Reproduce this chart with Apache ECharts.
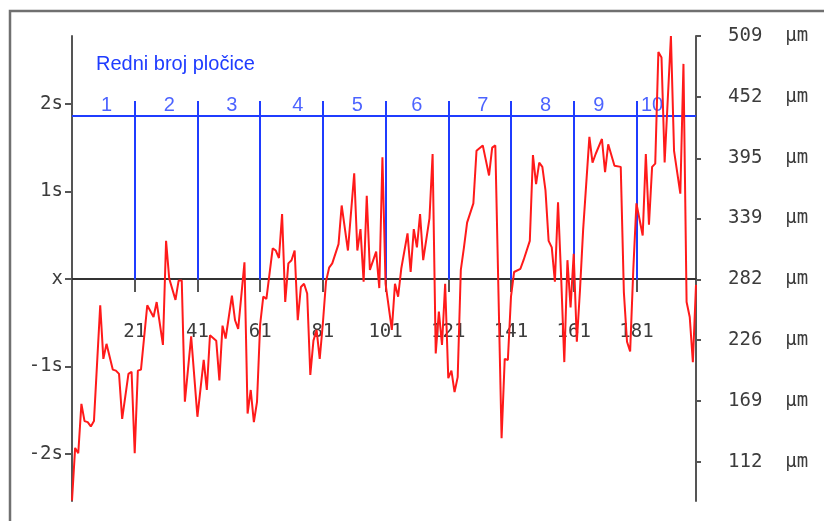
<!DOCTYPE html>
<html>
<head>
<meta charset="utf-8">
<script src="https://cdn.jsdelivr.net/npm/echarts@6/dist/echarts.min.js"></script>
<style>
  html, body { margin: 0; padding: 0; background: #fff; }
  #chart { width: 824px; height: 521px; }
</style>
</head>
<body>
<div id="chart"></div>
<script>
const SAMPLE_IDX = [
  1, 2, 3, 4, 5, 6, 7, 8, 10, 11, 12, 14, 15, 16, 17, 19, 20, 21, 22, 23,
  25, 27, 28, 30, 31, 32, 34, 35, 36, 37, 39, 41, 43, 44, 45, 47, 48, 49, 50, 52,
  53, 54, 56, 57, 58, 59, 60, 61, 62, 63, 65, 66, 67, 68, 69, 70, 71, 72, 73, 74,
  75, 76, 77, 78, 79, 80, 81, 82, 83, 84, 86, 87, 89, 91, 92, 93, 94, 95, 96, 98,
  99, 100, 101, 103, 104, 105, 106, 108, 109, 110, 111, 112, 113, 115, 116, 117, 118, 119, 120, 121,
  122, 123, 124, 125, 126, 127, 129, 130, 132, 134, 135, 136, 138, 139, 140, 141, 142, 144, 145, 147,
  148, 149, 150, 151, 152, 153, 154, 155, 156, 157, 158, 159, 160, 161, 162, 163, 164, 166, 167, 168,
  170, 171, 172, 174, 176, 177, 178, 179, 180, 181, 183, 184, 185, 186, 187, 188, 189, 190, 192, 193,
  195, 196, 197, 198, 199, 200
];
const THICKNESS_UM = [
  76, 125, 120, 166, 150, 149, 145, 150, 258, 208, 222, 198, 197, 194, 152, 194, 196, 120, 197, 198,
  258, 247, 261, 221, 318, 283, 263, 281, 281, 168, 229, 154, 207, 179, 230, 225, 188, 239, 227, 267,
  244, 236, 298, 157, 179, 149, 168, 240, 266, 264, 311, 309, 302, 343, 261, 297, 300, 309, 244, 275,
  278, 269, 193, 225, 235, 208, 241, 280, 293, 297, 315, 351, 309, 381, 309, 329, 280, 360, 291, 308,
  274, 396, 278, 235, 278, 266, 292, 325, 289, 329, 312, 343, 300, 339, 399, 213, 252, 221, 278, 190,
  197, 177, 191, 291, 312, 335, 353, 402, 407, 379, 405, 407, 134, 208, 207, 266, 289, 292, 300, 318,
  398, 371, 391, 387, 365, 318, 312, 280, 354, 284, 205, 300, 256, 306, 224, 272, 328, 415, 391, 399,
  413, 382, 408, 388, 387, 270, 224, 215, 291, 353, 323, 399, 333, 387, 390, 494, 489, 391, 509, 402,
  362, 483, 261, 247, 205, 277
];

// x ticks on the mean line
const X_TICKS = [21, 41, 61, 81, 101, 121, 141, 161, 181];

// right axis (µm)
const UM_TICKS = [112, 169, 226, 282, 339, 395, 452, 509];
const UM_MIN = 75.5;
const UM_MAX = 509;

// left axis: mean and ±s, ±2s
const S_TICKS = [445.5, 364, 282.5, 201, 119.5];
const S_LABELS = ["2s", "1s", "x", "-1s", "-2s"];

// plates (Redni broj pločice)
const PLATE_BOUNDS = [21, 41, 61, 81, 101, 121, 141, 161, 181];
const PLATE_NAMES = ["1", "2", "3", "4", "5", "6", "7", "8", "9", "10"];
const PLATE_LABEL_X = [12, 32, 52, 73, 92, 111, 132, 152, 169, 186];
const PLATE_LINE_UM = 434.4;
const PLATE_TOP_UM = 448.4;
const PLATE_LABEL_UM = 443.8;
const MEAN_UM = 282;

const MONO = "DejaVu Sans Mono";
const SANS = "Liberation Sans";
const TEXT = "#3c3c3c";
const AXIS = "#555";
const BLUE = "#1f3cff";

const chart = echarts.init(document.getElementById("chart"), null, { renderer: "canvas" });

const plateLines = [{ coords: [[1, PLATE_LINE_UM], [200, PLATE_LINE_UM]] }].concat(
  PLATE_BOUNDS.map((b) => ({ coords: [[b, PLATE_TOP_UM], [b, MEAN_UM]] }))
);

chart.setOption({
  animation: false,
  backgroundColor: "#fff",
  title: {
    text: "Redni broj pločice",
    left: 91,
    top: 49,
    textStyle: { color: BLUE, fontFamily: SANS, fontSize: 20, fontWeight: "normal" },
  },
  graphic: [
    {
      type: "rect",
      shape: { x: 10, y: 11, width: 840, height: 540 },
      style: { fill: null, stroke: "#707070", lineWidth: 2.5 },
      silent: true,
    },
  ],
  grid: { left: 72, right: 128, top: 36, bottom: 20, outerBoundsMode: "none", containLabel: false },
  xAxis: [
    {
      type: "value",
      min: 1,
      max: 200,
      position: "bottom",
      offset: -222,
      splitLine: { show: false },
      axisLine: { show: true, lineStyle: { color: "#333", width: 2 } },
      axisTick: { show: true, length: 13, customValues: X_TICKS, lineStyle: { color: AXIS, width: 2 } },
      axisLabel: {
        show: true,
        customValues: X_TICKS,
        margin: 44,
        color: TEXT,
        fontFamily: MONO,
        fontSize: 19,
      },
    },
    {
      type: "value",
      min: 1,
      max: 200,
      position: "bottom",
      offset: -222,
      splitLine: { show: false },
      axisLine: { show: false },
      axisTick: { show: true, inside: true, length: 12, customValues: X_TICKS, lineStyle: { color: AXIS, width: 2 } },
      axisLabel: { show: false },
    },
  ],
  yAxis: [
    {
      type: "value",
      min: UM_MIN,
      max: UM_MAX,
      position: "left",
      splitLine: { show: false },
      axisLine: { show: true, lineStyle: { color: AXIS, width: 2 } },
      axisTick: { show: true, length: 7, customValues: S_TICKS, lineStyle: { color: AXIS, width: 2 } },
      axisLabel: {
        customValues: S_TICKS,
        margin: 9,
        color: TEXT,
        fontFamily: MONO,
        fontSize: 19,
        formatter: (v) => S_LABELS[S_TICKS.indexOf(v)],
      },
    },
    {
      type: "value",
      min: UM_MIN,
      max: UM_MAX,
      position: "right",
      splitLine: { show: false },
      axisLine: { show: true, lineStyle: { color: AXIS, width: 2 } },
      axisTick: { show: true, length: 5, customValues: UM_TICKS, lineStyle: { color: AXIS, width: 2 } },
      axisLabel: {
        customValues: UM_TICKS,
        margin: 32,
        color: TEXT,
        fontFamily: MONO,
        fontSize: 19,
        formatter: (v) => v + "  µm",
      },
    },
  ],
  series: [
    {
      type: "lines",
      coordinateSystem: "cartesian2d",
      xAxisIndex: 0,
      yAxisIndex: 1,
      silent: true,
      z: 3,
      lineStyle: { color: BLUE, width: 2, opacity: 1 },
      data: plateLines,
    },
    {
      type: "scatter",
      xAxisIndex: 0,
      yAxisIndex: 1,
      symbolSize: 0,
      silent: true,
      z: 3,
      label: {
        show: true,
        position: "inside",
        formatter: (p) => p.name,
        color: BLUE,
        fontFamily: SANS,
        fontSize: 20,
      },
      data: PLATE_NAMES.map((n, i) => ({ name: n, value: [PLATE_LABEL_X[i], PLATE_LABEL_UM] })),
    },
    {
      type: "line",
      xAxisIndex: 0,
      yAxisIndex: 1,
      symbol: "none",
      z: 5,
      lineStyle: { color: "#ff1a1a", width: 2 },
      data: SAMPLE_IDX.map((x, i) => [x, THICKNESS_UM[i]]),
    },
  ],
});
</script>
</body>
</html>
